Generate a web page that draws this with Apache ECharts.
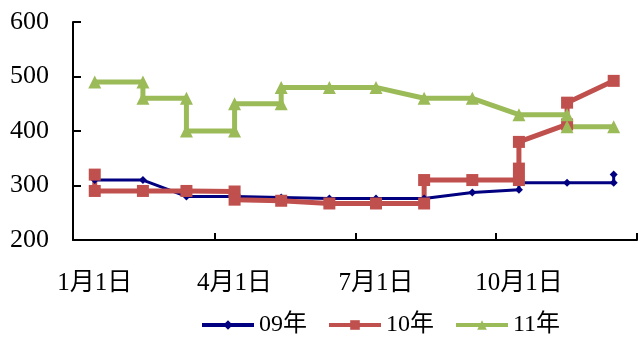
<!DOCTYPE html>
<html>
<head>
<meta charset="utf-8">
<script src="https://cdn.jsdelivr.net/npm/echarts@6/dist/echarts.min.js"></script>
<style>
  html, body { margin: 0; padding: 0; background: #fff; }
  #chart { width: 638px; height: 340px; }
</style>
</head>
<body>
<div id="chart"></div>
<script>
// day of year for the 1st of each month
const monthDays = [0, 31, 59, 90, 120, 151, 181, 212, 243, 273, 304, 334];

// x axis labels and where they sit (day of year)
const labelDays = [0, 90, 181, 273];
const labelTexts = ['1月1日', '4月1日', '7月1日', '10月1日'];
const tickDays = [-14, 77, 168, 258, 349];

const seriesNames = ['09年', '10年', '11年'];

// [month index, price]; a repeated month is a step on that date
const data09 = [
    [0, 310], [1, 310], [2, 280], [3, 280], [4, 278], [5, 276], [6, 276],
    [7, 276], [8, 287], [9, 292], [9, 305], [10, 305], [11, 305], [11, 320]
];
const data10 = [
    [0, 320], [0, 290], [1, 290], [2, 290], [3, 289], [3, 274], [4, 272],
    [5, 267], [6, 267], [7, 267], [7, 310], [8, 310], [9, 310], [9, 331],
    [9, 380], [10, 412], [10, 452], [11, 492]
];
const data11 = [
    [0, 490], [1, 490], [1, 460], [2, 460], [2, 400], [3, 400], [3, 450],
    [4, 450], [4, 480], [5, 480], [6, 480], [7, 460], [8, 460], [9, 430],
    [10, 430], [10, 408], [11, 408]
];

const toPoints = (rows) => rows.map(([m, v]) => [monthDays[m], v]);

const font = "'Liberation Serif', 'Noto Sans CJK SC', serif";

const makeSeries = (name, rows, color, width, symbol, size) => ({
    name,
    type: 'line',
    data: toPoints(rows),
    symbol,
    symbolSize: size,
    showAllSymbol: true,
    lineStyle: { color, width },
    itemStyle: { color },
    animation: false
});

const chart = echarts.init(document.getElementById('chart'));

chart.setOption({
    backgroundColor: '#fff',
    textStyle: { fontFamily: font },
    grid: { left: 73, right: 1, top: 22, bottom: 100, outerBoundsMode: 'none' },
    legend: {
        left: 195,
        top: 308,
        itemWidth: 52,
        itemHeight: 12,
        itemGap: 20,
        lineStyle: { width: 4 },
        textStyle: { fontFamily: font, fontSize: 24, color: '#000' },
        data: seriesNames
    },
    xAxis: {
        type: 'value',
        min: -14,
        max: 349,
        splitLine: { show: false },
        axisLine: { onZero: false, lineStyle: { color: '#000', width: 2 } },
        axisTick: { show: true, inside: true, length: 7, customValues: tickDays, lineStyle: { color: '#000', width: 2 } },
        axisLabel: {
            customValues: labelDays,
            margin: 31,
            fontSize: 25,
            fontFamily: font,
            color: '#000',
            formatter: (v) => labelTexts[labelDays.indexOf(v)] || ''
        }
    },
    yAxis: {
        type: 'value',
        min: 200,
        max: 600,
        interval: 100,
        splitLine: { show: false },
        axisLine: { show: true, onZero: false, lineStyle: { color: '#000', width: 2 } },
        axisTick: { show: true, inside: true, length: 8, lineStyle: { color: '#000', width: 2 } },
        axisLabel: { margin: 24, fontSize: 26, fontFamily: font, color: '#000' }
    },
    series: [
        makeSeries(seriesNames[0], data09, '#000080', 3, 'diamond', 8),
        makeSeries(seriesNames[1], data10, '#C0504D', 5, 'rect', 12),
        makeSeries(seriesNames[2], data11, '#9BBB59', 5, 'triangle', 13)
    ]
});
</script>
</body>
</html>
